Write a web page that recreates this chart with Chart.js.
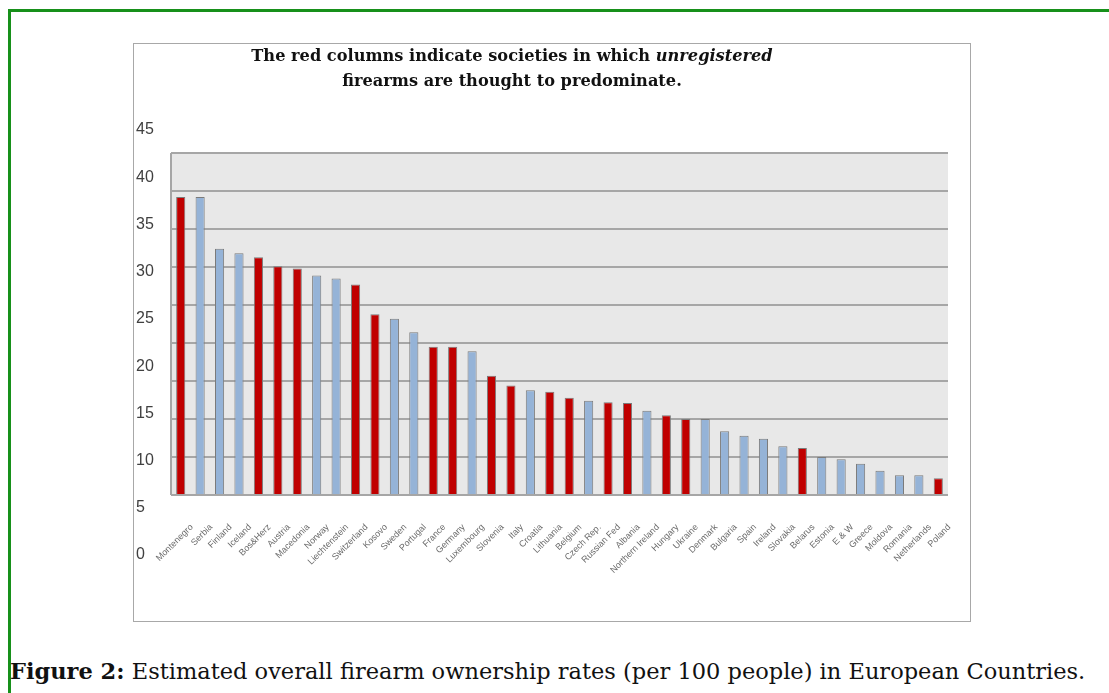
<!DOCTYPE html>
<html>
<head>
<meta charset="utf-8">
<script src="https://cdn.jsdelivr.net/npm/chart.js@4/dist/chart.umd.min.js"></script>
<style>
  body { margin: 0; background: #fff; width: 1109px; height: 693px; position: relative; overflow: hidden; }
  #frame { position: absolute; left: 8px; top: 9px; width: 1120px; height: 700px; border-top: 3px solid #17901a; border-left: 3px solid #17901a; }
  #box { position: absolute; left: 133px; top: 43px; width: 836px; height: 577px; border: 1px solid #a8a8a8; }
  #box canvas { position: absolute; left: 0; top: 0; }
  #title { position: absolute; left: 0; top: 0; width: 756px; text-align: center; font: bold 16.2px "DejaVu Serif", serif; line-height: 24.5px; color: #111; }
  #caption { position: absolute; left: 10px; top: 658px; font: 22.5px "DejaVu Serif", serif; color: #111; white-space: nowrap; }
</style>
</head>
<body>
<div id="frame"></div>
<div id="box">
  <canvas id="gunChart" width="836" height="577"></canvas>
  <div id="title">The red columns indicate societies in which <i>unregistered</i><br>firearms are thought to predominate.</div>
</div>
<div id="caption"><b>Figure 2:</b> Estimated overall firearm ownership rates (per 100 people) in European Countries.</div>
<script>
var countries = ['Montenegro', 'Serbia', 'Finland', 'Iceland', 'Bos&Herz', 'Austria', 'Macedonia', 'Norway',
  'Liechtenstein', 'Switzerland', 'Kosovo', 'Sweden', 'Portugal', 'France', 'Germany', 'Luxembourg',
  'Slovenia', 'Italy', 'Croatia', 'Lithuania', 'Belgium', 'Czech Rep.', 'Russian Fed', 'Albania',
  'Northern Ireland', 'Hungary', 'Ukraine', 'Denmark', 'Bulgaria', 'Spain', 'Ireland', 'Slovakia',
  'Belarus', 'Estonia', 'E & W', 'Greece', 'Moldova', 'Romania', 'Netherlands', 'Poland'];
var gunsPer100 = [39.2, 39.2, 32.4, 31.8, 31.3, 30.1, 29.8, 28.9, 28.5, 27.7,
  23.8, 23.2, 21.4, 19.5, 19.5, 18.9, 15.7, 14.4, 13.8, 13.6,
  12.8, 12.4, 12.2, 12.1, 11.1, 10.5, 10.0, 10.0, 8.4, 7.8,
  7.4, 6.4, 6.2, 5.0, 4.7, 4.1, 3.2, 2.6, 2.6, 2.2];
// 1 = unregistered guns thought to predominate (red column)
var unregistered = [1, 0, 0, 0, 1, 1, 1, 0, 0, 1,
  1, 0, 0, 1, 1, 0, 1, 1, 0, 1,
  1, 0, 1, 1, 0, 1, 1, 0, 0, 0,
  0, 0, 1, 0, 0, 0, 0, 0, 0, 1];
var yMax = 45;
var yStep = 5;

var barColors = unregistered.map(function (u) { return u ? '#c00000' : '#95b3d7'; });

// grey plot box between 0 and 45 on the bar scale, with its left edge
var plotBackdrop = {
  id: 'plotBackdrop',
  beforeDraw: function (chart) {
    var ctx = chart.ctx;
    var area = chart.chartArea;
    var y = chart.scales.y;
    var top = y.getPixelForValue(yMax);
    var bottom = y.getPixelForValue(0);
    ctx.save();
    ctx.fillStyle = '#e8e8e8';
    ctx.fillRect(area.left, top, area.right - area.left, bottom - top);
    ctx.strokeStyle = '#a6a6a6';
    ctx.lineWidth = 2;
    ctx.beginPath();
    ctx.moveTo(area.left, top);
    ctx.lineTo(area.left, bottom);
    ctx.stroke();
    ctx.restore();
  }
};

var ctx = document.getElementById('gunChart').getContext('2d');
var chart = new Chart(ctx, {
  type: 'bar',
  data: {
    labels: countries,
    datasets: [{
      data: gunsPer100,
      backgroundColor: barColors,
      borderColor: '#7b7b7b',
      borderWidth: 1,
      barPercentage: 0.47,
      categoryPercentage: 1
    }]
  },
  options: {
    responsive: false,
    animation: false,
    layout: { padding: { left: 2, right: 22, top: 86, bottom: 66 } },
    plugins: { legend: { display: false }, tooltip: { enabled: false } },
    scales: {
      x: {
        position: { y: 0 },
        grid: { display: false },
        border: { display: false },
        ticks: {
          autoSkip: false,
          minRotation: 45,
          maxRotation: 45,
          padding: 19,
          labelOffset: 11,
          color: '#6a6a6a',
          font: { family: 'Liberation Sans', size: 9 }
        },
        // rotated names may hang past the plot edges, don't shrink the plot for them
        afterFit: function (s) { s.paddingLeft = 0; s.paddingRight = 0; }
      },
      y: {
        position: 'left',
        min: -7.895,
        max: 48.03,
        grid: {
          drawTicks: false,
          lineWidth: 2,
          color: function (c) {
            var v = c.tick.value;
            return (v >= 0 && v <= yMax && Math.abs(v % yStep) < 1e-6) ? '#a6a6a6' : 'rgba(0,0,0,0)';
          }
        },
        border: { display: false },
        ticks: { display: false, stepSize: yStep },
        afterFit: function (s) { s.width = 0; }
      },
      yLabels: {
        position: 'left',
        min: 0,
        max: yMax,
        grid: { display: false },
        border: { display: false },
        ticks: {
          stepSize: yStep,
          crossAlign: 'far',
          color: '#404040',
          font: { family: 'Liberation Sans', size: 16 }
        },
        afterFit: function (s) { s.width = 35; }
      }
    }
  },
  plugins: [plotBackdrop]
});
</script>
</body>
</html>
